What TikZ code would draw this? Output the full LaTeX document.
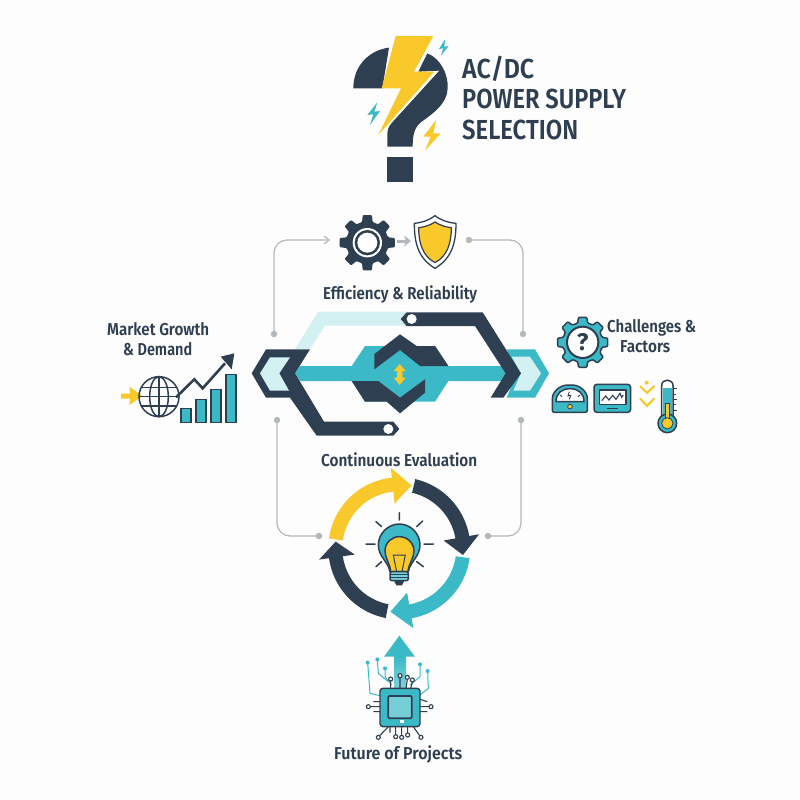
\documentclass[tikz,border=0pt]{standalone}
\usepackage{fontspec}
\usetikzlibrary{arrows.meta}
\setmainfont{Fira Sans}[UprightFont={* SemiBold},BoldFont={* Bold}]
\definecolor{dk}{HTML}{2F3F52}
\definecolor{tl}{HTML}{3BB9C6}
\definecolor{yl}{HTML}{F9C82B}
\definecolor{pale}{HTML}{D3F0F2}
\definecolor{gry}{HTML}{B3B8BC}
\definecolor{bgc}{HTML}{FDFDFD}
\newcommand\fittext[3]{\resizebox{#1pt}{\height}{\fontsize{#2}{#2}\selectfont #3}}
\newcommand\gearpath[5]{({#1+#4*cos(-360/#5*0.32)},{#2+#4*sin(-360/#5*0.32)}) foreach \k in {1,...,#5}{
 -- ({#1+#3*cos(360/#5*(\k-1)-360/#5*0.21)},{#2+#3*sin(360/#5*(\k-1)-360/#5*0.21)})
 -- ({#1+#3*cos(360/#5*(\k-1)+360/#5*0.21)},{#2+#3*sin(360/#5*(\k-1)+360/#5*0.21)})
 -- ({#1+#4*cos(360/#5*(\k-1)+360/#5*0.32)},{#2+#4*sin(360/#5*(\k-1)+360/#5*0.32)})
 -- ({#1+#4*cos(360/#5*\k-360/#5*0.32)},{#2+#4*sin(360/#5*\k-360/#5*0.32)})} -- cycle}
% colour, tail angle, head-base angle, tip angle
\newcommand\cyclearrow[4]{\fill[#1] plot[domain=#2:#3,samples=30] ({399.3+71*cos(\x)},{548.3-71*sin(\x)})
 -- ({399.3+81*cos(#3)},{548.3-81*sin(#3)}) -- ({399.3+64*cos(#4)},{548.3-64*sin(#4)})
 -- ({399.3+45*cos(#3)},{548.3-45*sin(#3)})
 -- plot[domain=#3:#2,samples=30] ({399.3+57*cos(\x)},{548.3-57*sin(\x)}) -- cycle;}
\tikzset{
 lab/.style={inner sep=0pt,anchor=base west,text=dk},
 zA/.style={shift={(340,20)},x=0.33333pt,y=-0.33333pt},
 zB/.style={shift={(240,200)},x=0.33333pt,y=-0.33333pt},
 zC/.style={shift={(100,310)},x=0.33333pt,y=-0.33333pt},
 zD/.style={shift={(540,310)},x=0.33333pt,y=-0.33333pt},
 zE/.style={shift={(270,440)},x=0.33333pt,y=-0.33333pt},
 zF/.style={shift={(320,630)},x=0.33333pt,y=-0.33333pt},
 conn/.style={draw=gry,line width=1.2pt,rounded corners=13pt},
 cdot/.style={circle,fill=gry,inner sep=0pt,minimum size=6.5pt},
 ink/.style={draw=dk,line width=1.5pt,line cap=round,line join=round},
 teal line/.style={draw=tl,line width=1pt,line join=round},
 pin/.style={draw=dk,fill=white,line width=1.1pt},
}
\begin{document}
\begin{tikzpicture}[x=1pt,y=-1pt]
\useasboundingbox (0,0) rectangle (800,800);
\fill[bgc] (0,0) rectangle (800,800);

% ---------- title emblem
\begin{scope}[zA]
\fill[dk] (40,205) .. controls (40,135) and (90,90) .. (147,83) -- (127,205) -- cycle;
\fill[dk] (235,155) -- (262,100) .. controls (300,115) and (325,160) .. (323,205)
  .. controls (322,250) and (280,280) .. (245,305) .. controls (225,320) and (218,340) .. (218,380)
  -- (142,380) -- (142,340) .. controls (142,320) and (155,310) .. (165,298) -- (298,152) -- cycle;
\fill[dk] (142,412) rectangle (218,487);
\fill[yl] (167,48) -- (280,48) -- (222,155) -- (283,155) -- (115,345) -- (183,205) -- (125,205) -- cycle;
\fill[tl] (315,58) -- (297,87) -- (310,85) -- (303,107) -- (326,78) -- (313,80) -- cycle;
\fill[tl] (112,247) -- (82,285) -- (100,283) -- (90,315) -- (120,273) -- (103,275) -- cycle;
\fill[yl] (288,300) -- (250,350) -- (272,350) -- (255,392) -- (302,340) -- (280,340) -- cycle;
\end{scope}
\node[lab] (t1) at (462,78) {\fittext{72}{27.5}{AC/DC}};
\node[lab] (t2) at (462,108) {\fittext{164}{27.5}{POWER SUPPLY}};
\node[lab] (t3) at (462,139) {\fittext{116}{27.5}{SELECTION}};

% ---------- grey connectors
\coordinate (c1a) at (274,334); \coordinate (c1b) at (330,240);
\coordinate (c2a) at (469,240); \coordinate (c2b) at (523,334);
\coordinate (c3a) at (277,420); \coordinate (c3b) at (319,536);
\coordinate (c4a) at (521,420); \coordinate (c4b) at (488,536);
\draw[conn,-{Straight Barb[length=5pt,width=8pt]}] (c1a) |- (c1b);
\draw[conn] (c2a) -| (c2b);
\draw[conn] (c3a) |- (c3b);
\draw[conn] (c4a) |- (c4b);
\foreach \p in {c1a,c2a,c2b,c3a,c3b,c4a,c4b} \node[cdot] at (\p) {};
\coordinate (gearR) at (397,241); \coordinate (shieldL) at (411,241);
\draw[draw=gry,line width=3pt,-{Stealth[length=7pt,width=11pt,inset=2pt]}] (gearR) -- (shieldL);

% ---------- gear and shield
\begin{scope}[zB]
\fill[dk,rounded corners=1pt] \gearpath{382}{128}{84}{64}{8};
\fill[white] (382,128) circle (44);
\fill[dk] (382,128) circle (38);
\fill[white] (382,128) circle (30);
\draw[dk,fill=white,line width=1.3pt,line join=round] (585,47) .. controls (565,62) and (545,68) .. (523,70)
  .. controls (523,130) and (535,175) .. (585,205) .. controls (635,175) and (648,130) .. (648,70)
  .. controls (625,68) and (605,62) .. (585,47) -- cycle;
\draw[dk,fill=yl,line width=1.2pt,line join=round] (585,66) .. controls (570,76) and (553,81) .. (536,83)
  .. controls (536,130) and (548,168) .. (585,188) .. controls (622,168) and (634,130) .. (634,83)
  .. controls (617,81) and (600,76) .. (585,66) -- cycle;
\end{scope}
\node[lab] (eff) at (323,299) {\fittext{154}{17.2}{Efficiency \& Reliability}};

% ---------- central hexagon mechanism
\begin{scope}[zB]
\fill[pale] (165,447) -- (235,335) -- (500,335) -- (500,377) -- (255,377) -- (210,447) -- cycle;
\fill[tl] (800,448) -- (885,448) -- (927,520) -- (885,593) -- (800,593) -- (830,520) -- cycle;
\fill[pale] (815,470) -- (870,470) -- (903,520) -- (870,572) -- (820,572) -- (843,520) -- cycle;
\fill[tl] (165,520) -- (180,498) -- (335,498) -- (375,438) -- (585,438) -- (625,498) -- (800,498)
  -- (800,543) -- (625,543) -- (585,605) -- (375,605) -- (335,543) -- (180,543) -- cycle;
\fill[dk] (403,462) -- (480,403) -- (530,438) -- (585,438) -- (625,498) -- (540,498) -- (480,450) -- (403,508) -- cycle;
\fill[dk] (335,543) -- (415,543) -- (480,593) -- (555,538) -- (555,578) -- (480,640) -- (440,605) -- (375,605) -- cycle;
\fill[yl] (479,492) -- (497,513) -- (487,513) -- (487,533) -- (497,533) -- (479,555) -- (461,533) -- (471,533) -- (471,513) -- (461,513) -- cycle;
\fill[dk] (482,357) -- (500,337) -- (728,337) -- (843,520) -- (790,593) -- (752,593) -- (797,520) -- (705,378) -- (500,378) -- cycle;
\fill[white] (515,357) circle (15);
\fill[dk] (35,520) -- (78,448) -- (210,448) -- (165,520) -- (252,665) -- (460,665) -- (478,687) -- (460,707) -- (230,707) -- (150,593) -- (78,593) -- cycle;
\fill[white] (445,687) circle (15);
\fill[pale] (60,520) -- (90,472) -- (150,472) -- (118,520) -- (147,572) -- (90,572) -- cycle;
\end{scope}

% ---------- market growth
\node[lab] (m1) at (107,335) {\fittext{102}{17.2}{Market Growth}};
\node[lab] (m2) at (123,355) {\fittext{69}{17.2}{\& Demand}};
\begin{scope}[zC]
\fill[yl] (63,251) -- (90,251) -- (88,230) -- (128,258) -- (88,285) -- (90,266) -- (63,266) -- cycle;
\draw[ink] (177,260) circle (60);
\draw[ink] (177,260) ellipse (28 and 60);
\draw[ink] (117,260) -- (237,260) (177,200) -- (177,320) (125,232) -- (229,232) (125,288) -- (229,288);
\draw[draw=dk,line width=2.6pt,line join=miter] (228,262) -- (283,208) -- (308,235) -- (375,160);
\fill[dk] (403,130) -- (395,178) -- (362,140) -- cycle;
\foreach \a/\b in {243/295,288/268,333/238,378/193}
  \draw[draw=dk,fill=tl,line width=1.4pt] (\a,\b) rectangle (\a+30,337);
\end{scope}

% ---------- challenges
\node[lab] (h1) at (607,332) {\fittext{89}{17.2}{Challenges \&}};
\node[lab] (h2) at (620,352) {\fittext{50}{17.2}{Factors}};
\begin{scope}[zD]
\draw[dk,fill=tl,line width=1.5pt,line join=round,rounded corners=1pt] \gearpath{128}{97}{76}{60}{8};
\draw[dk,fill=white,line width=2pt] (128,97) circle (47);
\node[inner sep=0pt,text=dk] (qm) at (128,97) {\fontsize{24}{24}\selectfont\bfseries ?};
% gauge
\draw[ink,fill=tl,rounded corners=2pt] (37,307) -- (37,272) .. controls (37,245) and (60,225) .. (90,225)
  .. controls (120,225) and (142,245) .. (142,272) -- (142,307) -- cycle;
\draw[ink,fill=white] (48,275) .. controls (48,250) and (65,236) .. (90,236) .. controls (115,236) and (132,250) .. (132,275) -- cycle;
\fill[yl,draw=dk,line width=0.8pt] (90,290) circle (7);
\draw[draw=dk,line width=0.9pt] (88,245) -- (84,258) -- (92,256) -- (88,268) (60,255) -- (66,260) (120,255) -- (114,260);
% monitor
\draw[ink,fill=tl,rounded corners=3pt] (162,223) rectangle (272,307);
\draw[ink,fill=white] (178,240) rectangle (258,283);
\draw[draw=dk,line width=1.1pt] (185,272) -- (197,258) -- (207,270) -- (218,256) -- (228,268) -- (240,250) -- (245,262) -- (250,255);
\draw[draw=dk,line width=1.1pt] (200,295) -- (235,295);
% chevrons
\fill[yl] (320,218) circle (6);
\draw[draw=yl,line width=2.1pt] (300,228) -- (321,249) -- (343,228) (300,265) -- (321,288) -- (343,265);
% thermometer
\fill[white] (365,325) -- (365,227) .. controls (365,205) and (399,205) .. (399,227) -- (399,325) -- cycle;
\fill[tl] (369,235) rectangle (395,325);
\draw[ink] (365,325) -- (365,227) .. controls (365,205) and (399,205) .. (399,227) -- (399,325);
\draw[ink,fill=tl] (382,340) circle (28);
\draw[draw=dk,fill=yl,line width=0.8pt] (377,280) rectangle (387,325);
\fill[yl,draw=dk,line width=0.8pt] (382,340) circle (17);
\draw[draw=dk,line width=1pt] (400,235) -- (412,235) (400,252) -- (408,252) (400,268) -- (412,268) (400,284) -- (408,284) (400,300) -- (412,300);
\end{scope}

% ---------- continuous evaluation
\node[lab] (ev) at (321,466) {\fittext{156}{17.2}{Continuous Evaluation}};
\cyclearrow{yl}{172}{96}{79}
\cyclearrow{dk}{77}{10}{-6}
\cyclearrow{tl}{-8}{-80}{-98}
\cyclearrow{dk}{-101}{-172}{-186}

% ---------- bulb
\begin{scope}[zE]
\draw[ink] (388,218) -- (388,240) (318,245) -- (335,260) (458,243) -- (440,260) (288,312) -- (315,312)
  (462,312) -- (490,312) (318,380) -- (335,365) (440,365) -- (460,380);
\draw[ink,fill=tl] (360,395) .. controls (355,365) and (325,350) .. (325,315) .. controls (325,280) and (355,252) .. (388,252)
  .. controls (421,252) and (450,280) .. (450,315) .. controls (450,350) and (420,365) .. (415,395) -- cycle;
\draw[ink,fill=yl] (362,395) .. controls (360,370) and (345,355) .. (345,333) .. controls (345,308) and (365,290) .. (388,290)
  .. controls (411,290) and (432,308) .. (432,333) .. controls (432,355) and (416,370) .. (414,395) -- cycle;
\draw[draw=dk,line width=1pt] (380,395) -- (370,345) -- (406,345) -- (396,395);
\draw[ink,fill=tl!70,rounded corners=2pt] (360,395) rectangle (415,422);
\draw[draw=dk,line width=0.8pt] (360,404) -- (415,404) (360,413) -- (415,413);
\fill[dk] (372,422) -- (403,422) -- (396,436) -- (379,436) -- cycle;
\end{scope}

% ---------- chip and arrow
\begin{scope}[zF]
\shade[bottom color=tl!65,top color=tl] (222,80) rectangle (258,175);
\fill[tl] (238,17) -- (285,80) -- (192,80) -- cycle;
\draw[teal line] (143,98) -- (150,190) -- (180,197);
\draw[teal line] (172,88) -- (175,130) -- (205,155);
\draw[teal line] (195,115) -- (195,140) -- (215,165);
\draw[teal line] (300,103) -- (300,140) -- (270,165);
\draw[teal line] (323,123) -- (325,175) -- (300,195);
\fill[tl] (143,98) circle (6) (172,88) circle (6) (195,115) circle (6) (300,103) circle (6) (323,123) circle (6);
\draw[draw=dk,line width=1.1pt] (240,143) -- (240,175) (212,153) -- (212,175) (262,148) -- (258,175) (277,156) -- (272,175)
  (151,230) -- (180,230) (160,215) -- (180,215) (160,245) -- (180,245)
  (300,230) -- (327,230) (300,208) -- (322,215) (300,245) -- (322,245)
  (179,317) -- (205,290) (227,315) -- (227,290) (245,316) -- (245,290) (263,309) -- (263,290) (299,317) -- (280,290) (210,308) -- (210,290);
\foreach \cx/\cy in {240/137,212/147,262/142,277/150,145/230,333/230,175/322,227/320,245/322,263/315,303/322}
  \draw[pin] (\cx,\cy) circle (6);
\draw[draw=dk,fill=tl,line width=1.4pt,rounded corners=3pt] (180,175) rectangle (300,290);
\draw[draw=dk,fill=tl!70,line width=1.7pt,rounded corners=1pt] (205,198) rectangle (275,265);
\fill[white] (241,270) rectangle (251,280);
\end{scope}
\node[lab] (fu) at (334,759) {\fittext{128}{17.2}{Future of Projects}};
\end{tikzpicture}
\end{document}
